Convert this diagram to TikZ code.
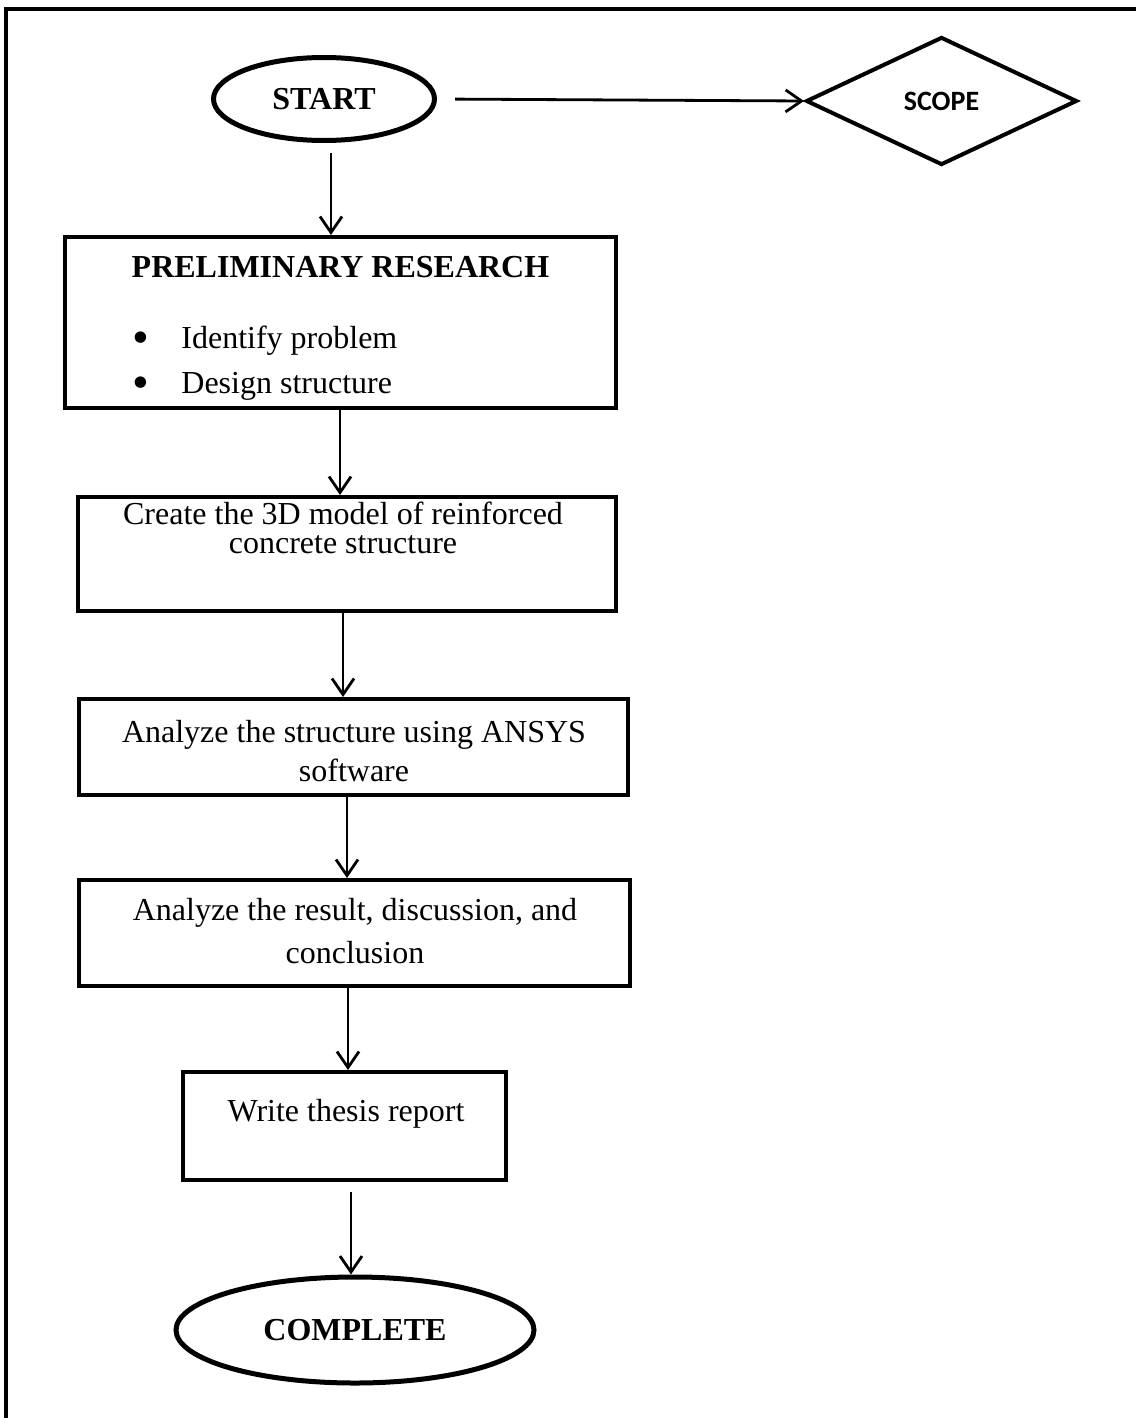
\documentclass[tikz,border=0pt]{standalone}
\usepackage{fontspec}
\setmainfont{Liberation Serif}
\newfontfamily\calibri{Carlito}
\usetikzlibrary{shapes.geometric,arrows.meta}
\begin{document}
\begin{tikzpicture}[x=0.5pt,y=-0.5pt,
  frame/.style={line width=2pt},
  term/.style={draw,ellipse,line width=2.5pt,inner sep=0pt,font=\fontsize{16}{19}\selectfont\bfseries},
  decide/.style={draw,diamond,line width=2pt,inner sep=0pt,font=\fontsize{14}{17}\selectfont\calibri\bfseries},
  stepbox/.style={draw,rectangle,line width=2pt,inner sep=0pt},
  txt/.style={inner sep=0pt,anchor=base,font=\fontsize{16}{19}\selectfont},
  btxt/.style={inner sep=0pt,anchor=base,font=\fontsize{16}{19}\selectfont\bfseries},
  bul/.style={inner sep=0pt,anchor=base,font=\fontsize{24}{24}\selectfont},
  arr/.style={line width=1.4pt,-{Straight Barb[length=8pt,width=11pt]}}
]
\useasboundingbox (0,0) rectangle (1135,1418);
% frame
\draw[frame] (6,1420) -- (6,9) -- (1140,9);

% terminals and decision
\node[term,minimum width=110.5pt,minimum height=41.5pt] (start) at (324,99) {START};
\node[decide,minimum width=135.5pt,minimum height=64pt] (scope) at (941.5,101) {SCOPE};
\node[term,minimum width=179pt,minimum height=53pt] (complete) at (355,1330) {COMPLETE};

% boxes
\node[stepbox,minimum width=275.5pt,minimum height=85.5pt] (box1) at (340.5,322.5) {};
\node[stepbox,minimum width=269pt,minimum height=57pt] (box2) at (347,554) {};
\node[stepbox,minimum width=274.5pt,minimum height=48pt] (box3) at (353.5,747) {};
\node[stepbox,minimum width=275.5pt,minimum height=53pt] (box4) at (354.5,933) {};
\node[stepbox,minimum width=161.5pt,minimum height=54pt] (box5) at (344.5,1126) {};

% texts
\node[btxt] (t1) at (340.5,277) {PRELIMINARY RESEARCH};
\node[bul] (b1) at (141,353) {\textbullet};
\node[txt,anchor=base west] (t1a) at (181,348) {Identify problem};
\node[bul] (b2) at (141,398) {\textbullet};
\node[txt,anchor=base west] (t1b) at (181,393) {Design structure};

\node[txt] (t2a) at (343,524) {Create the 3D model of reinforced};
\node[txt] (t2b) at (343,553) {concrete structure};
\node[txt] (t3a) at (354,742) {Analyze the structure using ANSYS};
\node[txt] (t3b) at (354,781) {software};
\node[txt] (t4a) at (355,920) {Analyze the result, discussion, and};
\node[txt] (t4b) at (355,963) {conclusion};
\node[txt] (t5) at (346,1121) {Write thesis report};

% connector axes
\coordinate (c0) at (331,0);
\coordinate (c1) at (340,0);
\coordinate (c2) at (343,0);
\coordinate (c3) at (347,0);
\coordinate (c4) at (348,0);
\coordinate (c5) at (351,0);

% connectors
\draw[arr,shorten <=9pt] (start.east) -- (scope.west);
\draw[arr,shorten <=5pt] (start.south -| c0) -- (box1.north -| c0);
\draw[arr] (box1.south -| c1) -- (box2.north -| c1);
\draw[arr] (box2.south -| c2) -- (box3.north -| c2);
\draw[arr] (box3.south -| c3) -- (box4.north -| c3);
\draw[arr] (box4.south -| c4) -- (box5.north -| c4);
\draw[arr,shorten <=5pt] (box5.south -| c5) -- (complete.north -| c5);
\end{tikzpicture}
\end{document}
